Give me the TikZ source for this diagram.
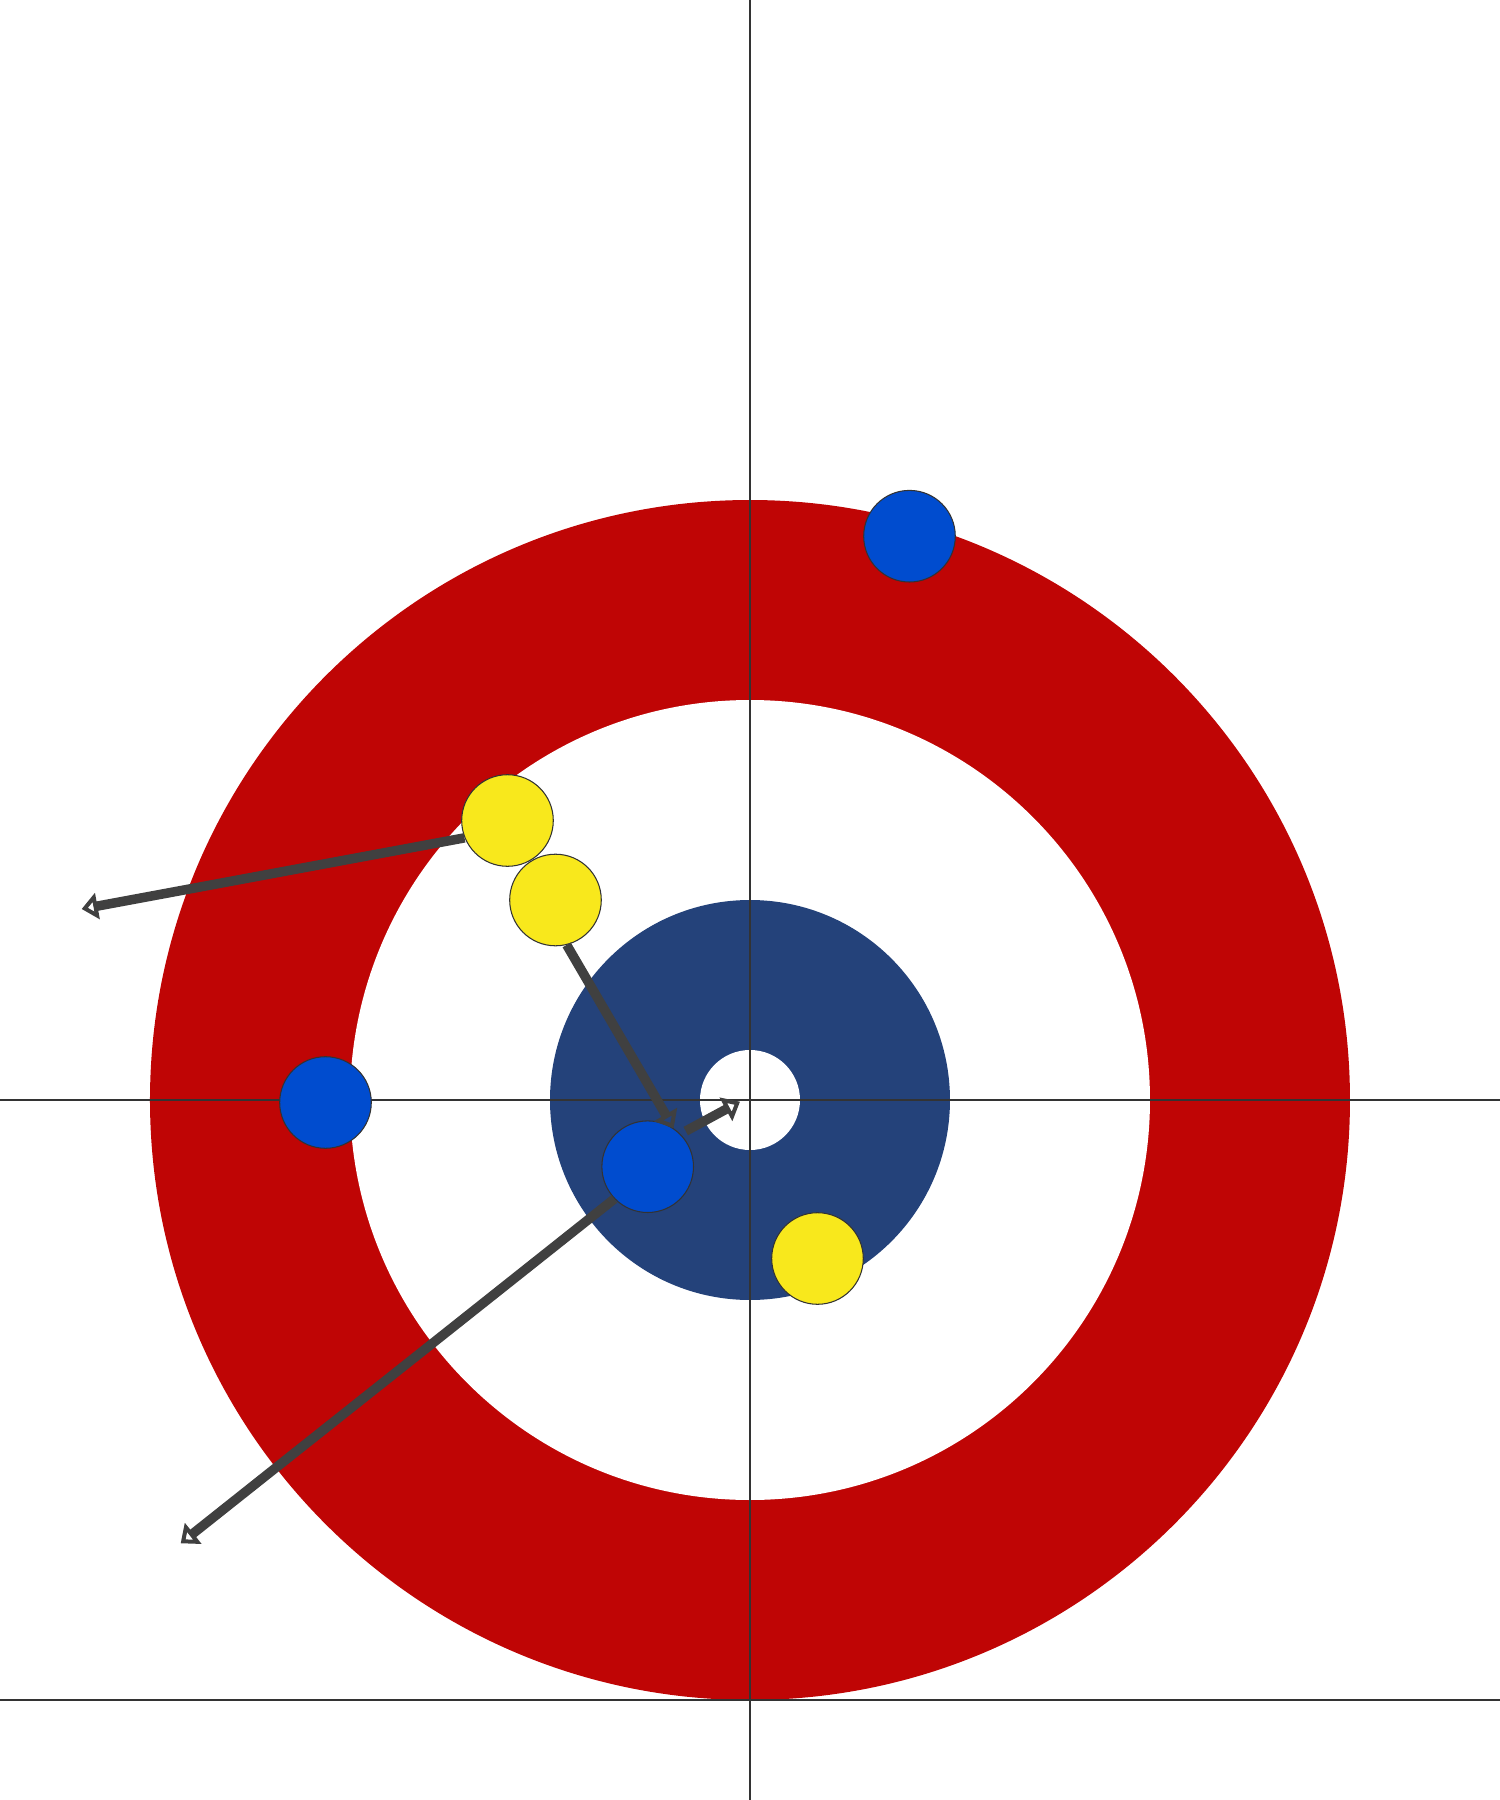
\documentclass[tikz,border=0pt]{standalone}
\usetikzlibrary{arrows.meta}
\definecolor{houseRed}{RGB}{191,5,5}
\definecolor{ringBlue}{RGB}{36,66,122}
\definecolor{stoneBlue}{RGB}{0,76,207}
\definecolor{stoneYellow}{RGB}{248,232,28}
\definecolor{arrowGray}{RGB}{64,64,64}
\definecolor{lineGray}{RGB}{51,51,51}
\begin{document}
\begin{tikzpicture}[
  stone/.style={circle, draw=lineGray, line width=0.3pt, minimum size=0.916cm, inner sep=0pt},
  blueStone/.style={stone, fill=stoneBlue},
  yellowStone/.style={stone, fill=stoneYellow},
  vec/.style={draw=arrowGray, line width=0.095cm, -{Triangle[open,length=0.16cm,width=0.26cm]}},
  sheetLine/.style={lineGray, line width=0.35pt}]
\useasboundingbox (-7.5,-7) rectangle (7.5,11);
% house
\fill[houseRed] (0,0) circle (6);
\fill[white] (0,0) circle (4);
\fill[ringBlue] (0,0) circle (2);
\fill[white] (0,0) circle (0.5);
% centre, tee and back lines
\draw[sheetLine] (0,-7) -- (0,11);
\draw[sheetLine] (-7.5,0) -- (7.5,0);
\draw[sheetLine] (-7.5,-6) -- (7.5,-6);
% stones
\node[blueStone] (b1) at (1.595,5.638) {};
\node[blueStone] (b2) at (-4.245,-0.025) {};
\node[blueStone] (b3) at (-1.023,-0.667) {};
\node[yellowStone] (y1) at (-2.425,2.795) {};
\node[yellowStone] (y2) at (-1.945,2.0) {};
\node[yellowStone] (y3) at (0.675,-1.585) {};
% moves
\coordinate (e1) at (-6.683,1.91);
\coordinate (e3) at (-5.693,-4.433);
\coordinate (e4) at (-0.10,-0.017);
\draw[vec] (y1.202) -- (e1);
\draw[vec] (y2.284) -- (b3.56);
\draw[vec] (b3.224) -- (e3);
\draw[vec, shorten <=0.06cm] (b3.45) -- (e4);
\end{tikzpicture}
\end{document}
